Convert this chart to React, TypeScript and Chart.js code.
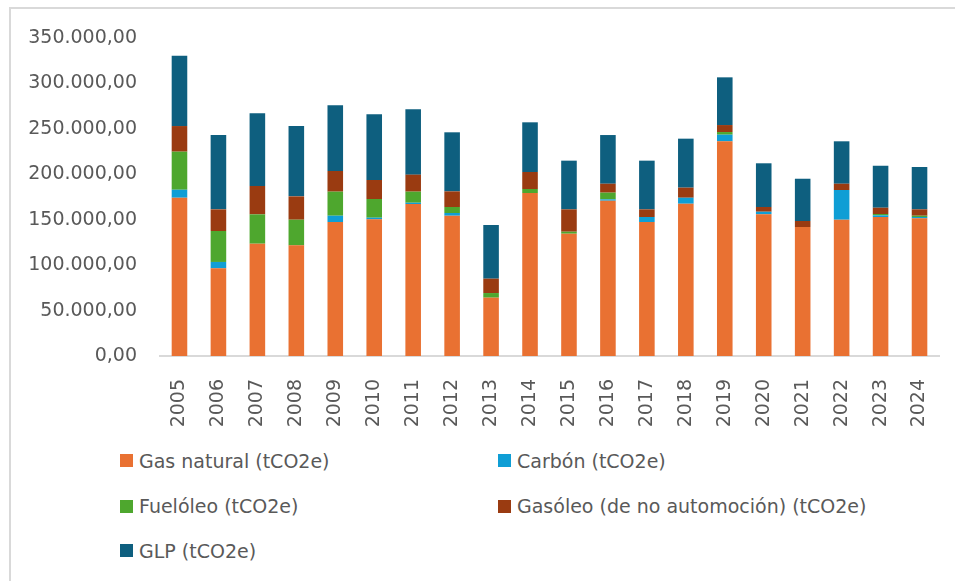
import React, { useEffect, useRef } from "react";
import { Chart, registerables } from "chart.js";

Chart.register(...registerables);

const years = ["2005", "2006", "2007", "2008", "2009", "2010", "2011", "2012", "2013", "2014", "2015", "2016", "2017", "2018", "2019", "2020", "2021", "2022", "2023", "2024"];

const gasNatural = [174200, 96500, 123600, 121800, 147500, 150400, 167300, 154400, 64200, 179400, 134600, 170900, 147500, 167600, 236300, 156000, 142000, 150000, 153000, 151500];
const carbon = [8800, 7000, 0, 0, 6900, 1800, 1400, 3000, 0, 0, 0, 1500, 5500, 6600, 7300, 2800, 0, 32700, 1800, 1500];
const fueloleo = [41900, 34100, 32300, 28200, 26500, 20600, 12200, 6600, 5100, 4400, 2200, 7400, 0, 0, 2900, 0, 0, 0, 1500, 1400];
const gasoleo = [28200, 23800, 31200, 25700, 22700, 20900, 18700, 17200, 15800, 18700, 24600, 9800, 8400, 11100, 7700, 5200, 6600, 6900, 6900, 7000];
const glp = [77400, 81800, 80000, 77400, 72300, 72300, 71900, 65000, 59100, 54700, 53600, 53600, 53600, 53900, 52500, 48100, 46500, 46700, 46200, 46600];

const seriesLabels = ["Gas natural (tCO2e)", "Carbón (tCO2e)", "Fuelóleo (tCO2e)", "Gasóleo (de no automoción) (tCO2e)", "GLP (tCO2e)"];
const seriesColors = ["#E97132", "#0F9ED5", "#4EA72E", "#9A3B11", "#0E5F7F"];

const yMin = 0;
const yMax = 350000;
const yStep = 50000;

const FONT = "'DejaVu Sans', sans-serif";
const TEXT_COLOR = "#595959";

function formatEs(v: number): string {
  const s = Math.round(v).toString().replace(/\B(?=(\d{3})+(?!\d))/g, ".");
  return s + ",00";
}

// legend layout: [seriesIndex, column, row]
const legendLayout: [number, number, number][] = [
  [0, 0, 0],
  [1, 1, 0],
  [2, 0, 1],
  [3, 1, 1],
  [4, 0, 2],
];

export default function App() {
  const canvasRef = useRef<HTMLCanvasElement | null>(null);

  useEffect(() => {
    if (!canvasRef.current) return;
    const seriesData = [gasNatural, carbon, fueloleo, gasoleo, glp];
    const chart = new Chart(canvasRef.current, {
      type: "bar",
      data: {
        labels: years,
        datasets: seriesData.map((d, i) => ({
          label: seriesLabels[i],
          data: d,
          backgroundColor: seriesColors[i],
          borderWidth: 0,
          categoryPercentage: 1,
          barPercentage: 0.4,
        })),
      },
      options: {
        animation: false,
        responsive: false,
        maintainAspectRatio: false,
        devicePixelRatio: 1,
        layout: { padding: { top: 38, right: 16, left: 0, bottom: 0 } },
        plugins: {
          legend: { display: false },
          tooltip: { enabled: false },
        },
        scales: {
          x: {
            stacked: true,
            grid: { display: false, drawTicks: false },
            border: { display: true, color: "#d9d9d9", width: 2 },
            ticks: {
              minRotation: 90,
              maxRotation: 90,
              autoSkip: false,
              padding: 23,
              color: TEXT_COLOR,
              font: { family: FONT, size: 19 },
            },
            afterFit: (scale: any) => {
              scale.height = 84;
              scale.paddingLeft = 0;
              scale.paddingRight = 0;
            },
          },
          y: {
            stacked: true,
            min: yMin,
            max: yMax,
            grid: { display: false, drawTicks: false },
            border: { display: false },
            ticks: {
              stepSize: yStep,
              padding: 23,
              color: TEXT_COLOR,
              font: { family: FONT, size: 19 },
              callback: (v: any) => formatEs(Number(v)),
            },
            afterFit: (scale: any) => {
              scale.width = 160;
              scale.paddingTop = 0;
              scale.paddingBottom = 0;
            },
          },
        },
      },
    });
    return () => chart.destroy();
  }, []);

  const colLeft = [120, 498];
  const rowCenter = [460.5, 506, 550.5];

  return (
    <div
      style={{
        position: "fixed",
        left: 0,
        top: 0,
        width: 955,
        height: 581,
        overflow: "hidden",
        background: "#ffffff",
      }}
    >
      <div
        style={{
          position: "absolute",
          left: 9,
          top: 7,
          width: 1100,
          height: 800,
          border: "2px solid #d9d9d9",
          boxSizing: "border-box",
        }}
      />
      <canvas
        ref={canvasRef}
        width={955}
        height={440}
        style={{ position: "absolute", left: 0, top: 0, width: 955, height: 440 }}
      />
      {legendLayout.map(([si, col, row]) => (
        <div
          key={si}
          style={{
            position: "absolute",
            left: colLeft[col],
            top: rowCenter[row] - 13,
            height: 26,
            display: "flex",
            alignItems: "center",
            whiteSpace: "nowrap",
            fontFamily: FONT,
            fontSize: 19,
            color: TEXT_COLOR,
          }}
        >
          <span
            style={{
              display: "inline-block",
              width: 13,
              height: 13,
              background: seriesColors[si],
              marginRight: 6,
            }}
          />
          <span>{seriesLabels[si]}</span>
        </div>
      ))}
    </div>
  );
}
